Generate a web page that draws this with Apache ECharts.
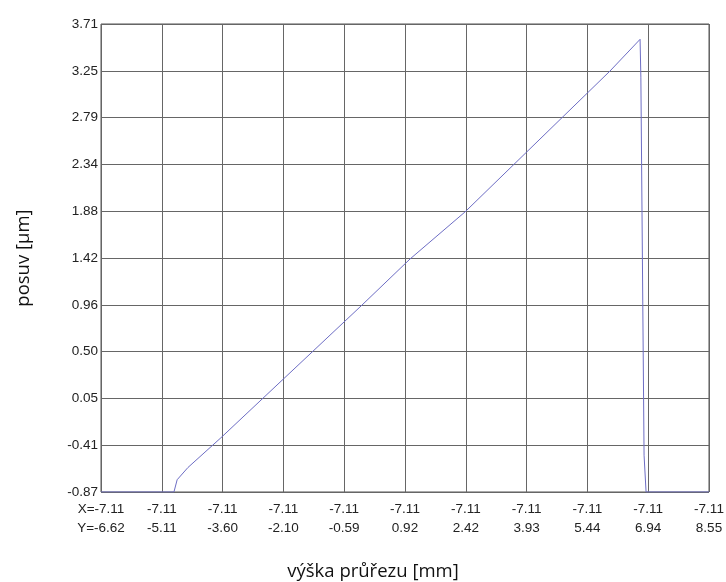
<!DOCTYPE html>
<html>
<head>
<meta charset="UTF-8">
<script src="https://cdn.jsdelivr.net/npm/echarts@6/dist/echarts.min.js"></script>
<style>
  html, body { margin: 0; padding: 0; background: #fff; }
  #chart { width: 726px; height: 582px; }
</style>
</head>
<body>
<div id="chart"></div>
<script>
// ---- data ----
const yTickLabels = ['-0.87', '-0.41', '0.05', '0.50', '0.96', '1.42', '1.88', '2.34', '2.79', '3.25', '3.71'];
const xTickLabels = ['-6.62', '-5.11', '-3.60', '-2.10', '-0.59', '0.92', '2.42', '3.93', '5.44', '6.94', '8.55'];
const xOtherLabels = ['-7.11', '-7.11', '-7.11', '-7.11', '-7.11', '-7.11', '-7.11', '-7.11', '-7.11', '-7.11', '-7.11'];

const lineX = [-6.62, -4.80, -4.72, -4.45, -3.63, -0.16, 1.09, 2.46, 6.08, 6.83, 6.85, 6.93, 6.98, 8.55];
const lineY = [-0.87, -0.87, -0.75, -0.63, -0.34, 0.94, 1.41, 1.87, 3.25, 3.56, 3.19, -0.51, -0.87, -0.87];

const X_MIN = -6.62, X_MAX = 8.55, X_STEP = 1.517;
const Y_MIN = -0.87, Y_MAX = 3.71, Y_STEP = 0.458;

const chart = echarts.init(document.getElementById('chart'));

const points = lineX.map((x, i) => [x, lineY[i]]);

chart.setOption({
    animation: false,
    backgroundColor: '#fff',
    grid: {
        left: 101, right: 17, top: 24, bottom: 90,
        outerBoundsMode: 'none',
        containLabel: false,
        show: true,
        borderColor: '#555',
        borderWidth: 1
    },
    xAxis: {
        type: 'value',
        min: X_MIN, max: X_MAX, interval: X_STEP,
        name: 'výška průřezu [mm]',
        nameLocation: 'middle',
        nameGap: 70,
        nameTextStyle: { fontFamily: 'Open Sans', fontSize: 18.5, color: '#111', padding: [0, 64, 0, 0] },
        axisLine: { show: false },
        axisTick: { show: false },
        splitLine: { show: true, lineStyle: { color: '#666', width: 1 } },
        axisLabel: {
            fontFamily: 'Liberation Sans', fontSize: 13.5, color: '#222', lineHeight: 19, margin: 8,
            showMinLabel: true, showMaxLabel: true,
            formatter: function (v) {
                const i = Math.round((v - X_MIN) / X_STEP);
                if (i === 0) return 'X=' + xOtherLabels[i] + '\nY=' + xTickLabels[i];
                return xOtherLabels[i] + '\n' + xTickLabels[i];
            }
        }
    },
    yAxis: {
        type: 'value',
        min: Y_MIN, max: Y_MAX, interval: Y_STEP,
        name: 'posuv [μm]',
        nameLocation: 'middle',
        nameGap: 68,
        nameTextStyle: { fontFamily: 'Open Sans', fontSize: 18.5, color: '#111' },
        axisLine: { show: false },
        axisTick: { show: false },
        splitLine: { show: true, lineStyle: { color: '#666', width: 1 } },
        axisLabel: {
            fontFamily: 'Liberation Sans', fontSize: 13.5, color: '#222', margin: 3,
            padding: [0, 0, 8, 0],
            showMinLabel: true, showMaxLabel: true,
            formatter: function (v) {
                return yTickLabels[Math.round((v - Y_MIN) / Y_STEP)];
            }
        }
    },
    series: [{
        type: 'line',
        data: points,
        showSymbol: false,
        lineStyle: { color: '#6d6dc4', width: 1 },
        silent: true
    }]
});
</script>
</body>
</html>
